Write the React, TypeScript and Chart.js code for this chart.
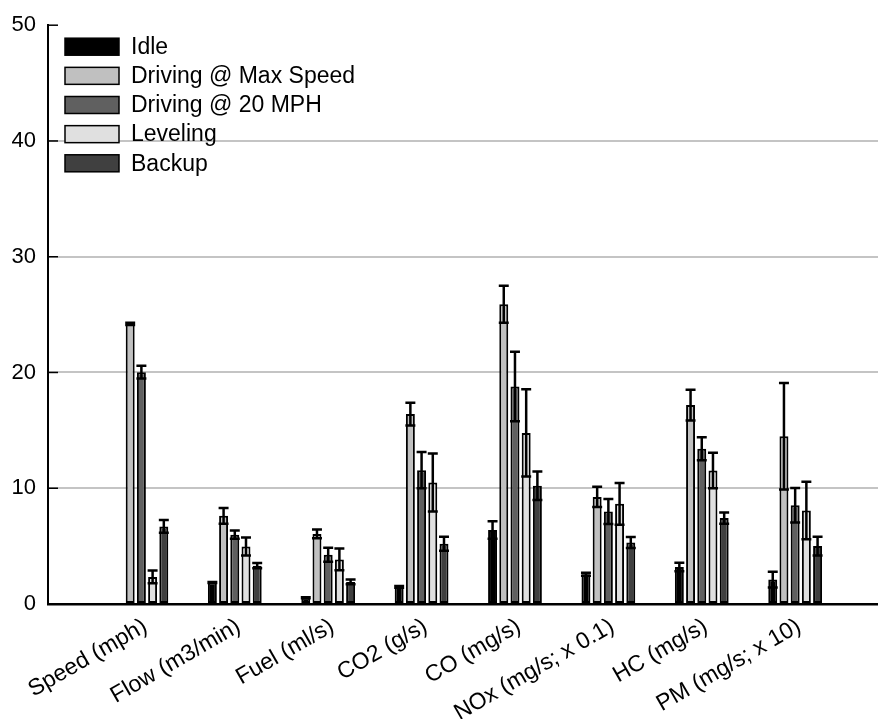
import React, { useEffect, useRef } from "react";
import { Chart, registerables } from "chart.js";

Chart.register(...registerables);

const categories = [
  "Speed (mph)",
  "Flow (m3/min)",
  "Fuel (ml/s)",
  "CO2 (g/s)",
  "CO (mg/s)",
  "NOx (mg/s; x 0.1)",
  "HC (mg/s)",
  "PM (mg/s; x 10)",
];

const seriesNames = ["Idle", "Driving @ Max Speed", "Driving @ 20 MPH", "Leveling", "Backup"];
const seriesColors = ["#000000", "#c0c0c0", "#606060", "#e0e0e0", "#404040"];

const idle: (number | null)[] = [null, 1.86, 0.54, 1.48, 6.39, 2.57, 3.2, 2.11];
const idleErr = [0, 0.05, 0.05, 0.08, 0.75, 0.12, 0.37, 0.68];

const maxSpeed = [24.2, 7.62, 6.05, 16.41, 25.9, 9.25, 17.18, 14.5];
const maxSpeedErr = [0.1, 0.68, 0.38, 0.98, 1.6, 0.88, 1.32, 4.6];

const mph20 = [20.03, 5.99, 4.25, 11.56, 18.78, 7.99, 13.41, 8.53];
const mph20Err = [0.55, 0.36, 0.6, 1.56, 3.0, 1.07, 1.0, 1.5];

const leveling = [2.34, 4.97, 3.85, 10.5, 14.78, 8.65, 11.53, 8.08];
const levelingErr = [0.55, 0.77, 0.94, 2.5, 3.77, 1.8, 1.53, 2.48];

const backup = [6.7, 3.31, 1.91, 5.2, 10.22, 5.31, 7.42, 5.0];
const backupErr = [0.55, 0.23, 0.2, 0.6, 1.23, 0.47, 0.48, 0.82];

const yTicks = [0, 10, 20, 30, 40, 50];

const seriesValues = [idle, maxSpeed, mph20, leveling, backup];
const seriesErrors = [idleErr, maxSpeedErr, mph20Err, levelingErr, backupErr];

const FONT = "'Liberation Sans', Arial, Helvetica, sans-serif";

const extrasPlugin = {
  id: "extras",
  afterDatasetsDraw(chart: any) {
    const ctx = chart.ctx;
    const yScale = chart.scales.y;
    const area = chart.chartArea;
    ctx.save();
    // inward y ticks
    ctx.strokeStyle = "#000";
    ctx.lineWidth = 1.5;
    yTicks.forEach((t) => {
      const py = yScale.getPixelForValue(t);
      ctx.beginPath();
      ctx.moveTo(area.left, py);
      ctx.lineTo(area.left + 10, py);
      ctx.stroke();
    });
    // error bars
    chart.data.datasets.forEach((ds: any, di: number) => {
      const meta = chart.getDatasetMeta(di);
      const errs = seriesErrors[di];
      meta.data.forEach((bar: any, i: number) => {
        const v = seriesValues[di][i];
        if (v === null || v === undefined) return;
        const e = errs[i];
        const x = bar.x;
        const hw = bar.width / 2 + 0.5;
        const yHi = yScale.getPixelForValue(v + e);
        const yLo = yScale.getPixelForValue(Math.max(0, v - e));
        ctx.strokeStyle = "#000";
        ctx.lineWidth = 2.5;
        ctx.beginPath();
        ctx.moveTo(x, yHi);
        ctx.lineTo(x, yLo);
        ctx.stroke();
        ctx.beginPath();
        ctx.moveTo(x - hw, yHi);
        ctx.lineTo(x + hw, yHi);
        ctx.moveTo(x - hw, yLo);
        ctx.lineTo(x + hw, yLo);
        ctx.stroke();
      });
    });
    // legend
    ctx.font = `23px ${FONT}`;
    ctx.textBaseline = "middle";
    ctx.textAlign = "left";
    seriesNames.forEach((name, i) => {
      const cy = 46.7 + i * 29.15;
      ctx.fillStyle = seriesColors[i];
      ctx.fillRect(65, cy - 8.5, 54, 17);
      ctx.strokeStyle = "#000";
      ctx.lineWidth = 1.5;
      ctx.strokeRect(65, cy - 8.5, 54, 17);
      ctx.fillStyle = "#000";
      ctx.fillText(name, 131, cy + 1);
    });
    ctx.restore();
  },
};

export default function App() {
  const ref = useRef<HTMLCanvasElement | null>(null);
  useEffect(() => {
    if (!ref.current) return;
    const chart = new Chart(ref.current, {
      type: "bar",
      data: {
        datasets: seriesNames.map((name, di) => ({
          label: name,
          data: seriesValues[di].map((v, i) => ({ x: i + 1, y: v })),
          backgroundColor: seriesColors[di],
          borderColor: "#000",
          borderWidth: 2,
          borderSkipped: false,
          categoryPercentage: 0.6,
          barPercentage: 0.8,
        })),
      } as any,
      options: {
        animation: false,
        responsive: false,
        maintainAspectRatio: false,
        layout: { padding: { top: 20, right: 0, left: 0, bottom: 0 } },
        plugins: { legend: { display: false }, tooltip: { enabled: false } },
        scales: {
          x: {
            type: "linear",
            min: 0,
            max: 8.887,
            offset: false,
            grid: { display: false, offset: false },
            border: { display: true, color: "#000", width: 2.5 },
            afterBuildTicks: (scale: any) => {
              scale.ticks = categories.map((_, i) => ({ value: i + 1 }));
            },
            afterFit: (scale: any) => {
              scale.height = 115;
            },
            ticks: {
              autoSkip: false,
              minRotation: 30,
              maxRotation: 30,
              padding: 1,
              labelOffset: 4,
              color: "#000",
              font: { family: FONT, size: 23 },
              callback: (value: any) => categories[Math.round(value) - 1] ?? "",
            },
          },
          y: {
            type: "linear",
            min: 0,
            max: 50,
            grid: {
              drawTicks: false,
              lineWidth: 2,
              color: (c: any) =>
                c.tick && (c.tick.value === 0 || c.tick.value === 50) ? "rgba(0,0,0,0)" : "#c4c4c4",
            },
            border: { display: true, color: "#000", width: 2 },
            afterFit: (scale: any) => {
              scale.width = 48;
            },
            ticks: {
              stepSize: 10,
              padding: 12,
              color: "#000",
              font: { family: FONT, size: 22 },
            },
          },
        },
      } as any,
      plugins: [extrasPlugin],
    });
    return () => chart.destroy();
  }, []);
  return (
    <div style={{ position: "absolute", left: 0, top: 0, width: 878, height: 719, background: "#fff" }}>
      <canvas ref={ref} width={878} height={719} />
    </div>
  );
}
